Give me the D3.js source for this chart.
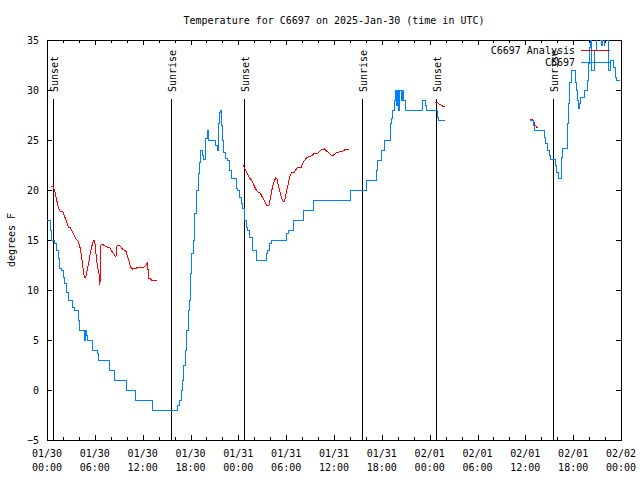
<!DOCTYPE html>
<html>
<head>
<meta charset="utf-8">
<script src="https://cdn.jsdelivr.net/npm/d3@7"></script>
<style>
body { margin: 0; background: #fff; }
text { font-family: "DejaVu Sans Mono", monospace; font-size: 10px; fill: #000; }
</style>
</head>
<body>
<div id="chart"></div>
<script>
// hours since 2025-01-30 00:00 UTC, temperature in F
const obsPart1 = [
  [0,17],[0.38,16],[0.6,15],[1.0,14.7],[1.21,14],[1.42,13.2],[1.63,12.2],[1.84,12],[2.04,11.3],
  [2.25,10.7],[2.46,9.8],[2.67,9],[3.25,8.3],[3.4,8],[3.9,7],[4.1,6],[4.7,5],[4.8,6],[4.95,5.5],
  [5.1,5],[5.65,4],[6.3,3.7],[6.45,3],[7.9,2],[8.5,1],[9.95,0],[11.1,-1],[13.2,-2],[16.4,-1.5],
  [16.65,-1],[16.85,0],[17.03,1],[17.15,2.5],[17.34,4],[17.53,6],[17.72,8],[17.82,9],[18.0,11.7],
  [18.16,13.7],[18.32,15],[18.53,17.7],[18.75,20],[18.95,21.7],[19.16,22.8],[19.28,24],[19.45,23.5],
  [19.57,23.1],[19.91,25.2],[20.07,26],[20.2,25],[21.04,25],[21.17,24.5],[21.33,24],[21.5,26.7],
  [21.66,27.8],[21.79,28],[21.87,26.5],[22.0,25],[22.16,23.8],[22.38,23.2],[22.7,23],[22.83,22],
  [23.13,21.2],[23.75,20.2],[23.9,20],[24.17,19.3],[24.38,18.7],[24.58,18.2],[24.8,17],[25.0,16.3],
  [25.2,16],[25.42,15.3],[25.76,14.8],[25.83,14],[26.33,13],[27.51,13.7],[27.71,14],[27.92,14.7],
  [28.14,15],[30.09,15.7],[30.34,16],[30.93,17],[32.18,18],[33.4,19],[38.07,20],[40.03,21],
  [41.28,22],[41.48,23],[41.91,24],[42.32,25],[43.08,26.7],[43.24,27.2],[43.36,28],[43.58,29],
  [43.7,30],[43.79,28.5],[43.91,30],[44.08,28],[44.2,30],[44.42,29],[44.62,30],[44.77,29],
  [44.95,28],[47.05,29],[47.46,28.5],[47.62,28],[49.0,27.3],[49.12,27],[49.96,27]
]
const obsPart2 = [
  [60.6,27],[60.98,26.5],[61.1,26],[62.36,25.3],[62.57,24.7],[62.77,24],[62.98,23.5],[63.19,23.1],
  [63.74,22.5],[63.9,21.8],[64.11,21.2],[64.49,22.7],[64.58,23.3],[64.65,24.2],[65.28,26.7],
  [65.4,28.7],[65.58,30.8],[65.83,32],[66.24,30.8],[66.4,30],[66.53,29],[66.65,28.2],[66.83,28.7],
  [66.96,29.3],[67.37,30],[67.78,31],[67.91,32.7],[68.08,34.3],[68.21,35.5],[68.33,32],[68.62,34],
  [68.91,35.5],[69.18,36],[69.37,35],[69.58,34.5],[69.7,35.2],[69.87,34.5],[69.99,35.2],[70.16,36],
  [70.29,35],[70.41,32],[70.71,33],[71.04,32.3],[71.25,31.8],[71.34,31.3],[71.46,31],[71.88,31]
]
const anaPart1 = [
  [0.5,20.4],[0.79,20.4],[1.0,19.8],[1.21,19],[1.42,18.3],[1.63,17.9],[1.97,17.9],[2.13,17.5],
  [2.38,17],[2.67,16.3],[2.97,16.2],[3.22,15.8],[3.51,15.3],[3.72,15],[3.92,14.9],[4.13,14.3],
  [4.35,13.3],[4.47,12.5],[4.67,11.3],[4.88,11.3],[5.05,12],[5.3,13],[5.51,14],[5.72,14.7],
  [5.89,15],[6.01,14.7],[6.14,13.7],[6.3,12.5],[6.51,11.7],[6.64,10.5],[6.76,14.5],[6.89,14.6],
  [7.26,14.4],[7.48,14.3],[7.89,14.2],[8.1,13.9],[8.39,13.6],[8.64,13.3],[8.8,14.5],[9.14,14.4],
  [9.48,14.1],[9.89,13.9],[10.05,13.5],[10.31,12.8],[10.48,12.3],[10.73,12.1],[11.23,12.2],
  [11.65,12.3],[12.06,12.2],[12.4,12.5],[12.56,12.7],[12.68,12],[12.73,11.2],[12.9,11.2],
  [13.11,11],[13.81,11]
]
const anaPart2 = [
  [24.58,22.5],[25.0,21.8],[25.21,21.5],[25.42,21.2],[25.63,21],[25.83,20.7],[26.05,20.3],
  [26.26,20],[26.46,19.8],[26.76,19.7],[27.01,19.3],[27.3,18.9],[27.51,18.5],[27.84,18.5],
  [28.05,19.3],[28.26,20.2],[28.46,20.8],[28.68,21.2],[28.84,21.1],[29.09,20.2],[29.39,19.3],
  [29.59,18.9],[29.8,18.9],[30.01,19.7],[30.22,20.5],[30.43,21.3],[30.64,21.7],[31.05,21.8],
  [31.27,22.1],[31.47,22.3],[31.89,22.3],[32.09,22.7],[32.43,23.1],[32.72,23.3],[33.15,23.4],
  [33.43,23.6],[33.97,23.7],[34.4,24],[34.81,24.1],[35.22,23.8],[35.65,23.5],[35.94,23.5],
  [36.28,23.7],[36.6,23.8],[37.1,23.9],[37.53,24.1],[37.85,24.1]
]
const anaPart3 = [[48.71,28.8],[49.0,28.7],[49.21,28.6],[49.42,28.5],[49.62,28.4],[49.96,28.4]]
const anaPart4 = [[60.6,27.1],[60.98,27],[61.23,26.5],[61.52,26.2]]

const sunHours = [0.75, 15.58, 24.7, 39.52, 48.77, 63.5]
const sunLabels = ["Sunset", "Sunrise", "Sunset", "Sunrise", "Sunset", "Sunrise"]

const yTicks = [-5, 0, 5, 10, 15, 20, 25, 30, 35]
const majorHours = [0, 6, 12, 18, 24, 30, 36, 42, 48, 54, 60, 66, 72]
const minorHours = [0,2,4,6,8,10,12,14,16,18,20,22,24,26,28,30,32,34,36,38,40,42,44,46,48,
  50,52,54,56,58,60,62,64,66,68,70,72]

const width = 640
const height = 480
const mLeft = 47, mRight = 621, mTop = 40, mBottom = 440

const start = Date.UTC(2025, 0, 30)
const toDate = h => new Date(start + h * 3600e3)

const x = d3.scaleUtc().domain([toDate(0), toDate(72)]).range([mLeft, mRight])
const y = d3.scaleLinear().domain([-5, 35]).range([mBottom, mTop])

const svg = d3.select('#chart')
  .append('svg')
  .attr('width', width)
  .attr('height', height)
  .attr('shape-rendering', 'crispEdges')

svg.append('defs').append('clipPath').attr('id', 'plot')
  .append('rect').attr('x', mLeft).attr('y', mTop)
  .attr('width', mRight - mLeft).attr('height', mBottom - mTop)

svg.append('text')
  .attr('x', (mLeft + mRight) / 2)
  .attr('y', 20)
  .attr('dy', '0.35em')
  .attr('text-anchor', 'middle')
  .text('Temperature for C6697 on 2025-Jan-30 (time in UTC)')

// axes with inward ticks
const tickDates = majorHours.map(toDate)
const minorDates = minorHours.map(toDate)

function noDomain(g) { g.select('.domain').remove(); g.selectAll('.tick text').remove() }

svg.append('g').attr('transform', `translate(0 ${mBottom})`)
  .call(d3.axisBottom(x).tickValues(minorDates).tickSizeInner(-3).tickSizeOuter(0)).call(noDomain)
svg.append('g').attr('transform', `translate(0 ${mBottom})`)
  .call(d3.axisBottom(x).tickValues(tickDates).tickSizeInner(-5).tickSizeOuter(0)).call(noDomain)
svg.append('g').attr('transform', `translate(0 ${mTop})`)
  .call(d3.axisTop(x).tickValues(minorDates).tickSizeInner(-3).tickSizeOuter(0)).call(noDomain)
svg.append('g').attr('transform', `translate(0 ${mTop})`)
  .call(d3.axisTop(x).tickValues(tickDates).tickSizeInner(-5).tickSizeOuter(0)).call(noDomain)
svg.append('g').attr('transform', `translate(${mRight} 0)`)
  .call(d3.axisRight(y).tickValues(yTicks).tickSizeInner(-5).tickSizeOuter(0)).call(noDomain)

const yAxis = svg.append('g').attr('transform', `translate(${mLeft} 0)`)
  .call(d3.axisLeft(y).tickValues(yTicks).tickSizeInner(-5).tickSizeOuter(0).tickPadding(8))
yAxis.select('.domain').remove()
yAxis.attr('font-size', null).attr('font-family', null)

const dayFmt = d3.utcFormat('%m/%d')
const timeFmt = d3.utcFormat('%H:%M')
const xLabels = svg.append('g').selectAll('text')
  .data(tickDates)
  .join('text')
  .attr('text-anchor', 'middle')
xLabels.append('tspan').attr('x', d => x(d)).attr('y', 457).text(d => dayFmt(d))
xLabels.append('tspan').attr('x', d => x(d)).attr('y', 471).text(d => timeFmt(d))

svg.selectAll('.tick line').attr('stroke', '#000')

svg.append('rect')
  .attr('x', mLeft + 0.5).attr('y', mTop + 0.5)
  .attr('width', mRight - mLeft).attr('height', mBottom - mTop)
  .attr('fill', 'none').attr('stroke', '#000')

svg.append('text')
  .attr('transform', `translate(11 ${(mTop + mBottom) / 2}) rotate(-90)`)
  .attr('text-anchor', 'middle')
  .attr('dy', '0.35em')
  .text('degrees F')

// sunrise / sunset markers
svg.append('g').selectAll('line')
  .data(sunHours)
  .join('line')
  .attr('x1', d => Math.round(x(toDate(d))) + 0.5)
  .attr('x2', d => Math.round(x(toDate(d))) + 0.5)
  .attr('y1', 99)
  .attr('y2', mBottom)
  .attr('stroke', '#000')

svg.append('g').selectAll('text')
  .data(sunHours)
  .join('text')
  .attr('transform', d => `translate(${Math.round(x(toDate(d))) + 1} 92) rotate(-90)`)
  .attr('dy', '0.35em')
  .text((d, i) => sunLabels[i])

const line = d3.line().x(d => x(toDate(d[0]))).y(d => y(d[1]))
const stepLine = d3.line().x(d => x(toDate(d[0]))).y(d => y(d[1])).curve(d3.curveStepAfter)

const plots = svg.append('g').attr('clip-path', 'url(#plot)')

// key + analysis
svg.append('text').attr('x', 575).attr('y', 50).attr('dy', '0.35em').attr('text-anchor', 'end').text('C6697 Analysis')
svg.append('line').attr('x1', 581).attr('x2', 610).attr('y1', 50.5).attr('y2', 50.5).attr('stroke', '#ff0000')

plots.selectAll('.ana')
  .data([anaPart1, anaPart2, anaPart3, anaPart4])
  .join('path')
  .attr('class', 'ana')
  .attr('d', line)
  .attr('fill', 'none')
  .attr('stroke', '#ff0000')

// key + observations
svg.append('text').attr('x', 575).attr('y', 62).attr('dy', '0.35em').attr('text-anchor', 'end').text('C6697')
svg.append('line').attr('x1', 581).attr('x2', 610).attr('y1', 62.5).attr('y2', 62.5).attr('stroke', '#0080ff')

plots.selectAll('.obs')
  .data([obsPart1, obsPart2])
  .join('path')
  .attr('class', 'obs')
  .attr('d', stepLine)
  .attr('fill', 'none')
  .attr('stroke', '#0080ff')
</script>
</body>
</html>
